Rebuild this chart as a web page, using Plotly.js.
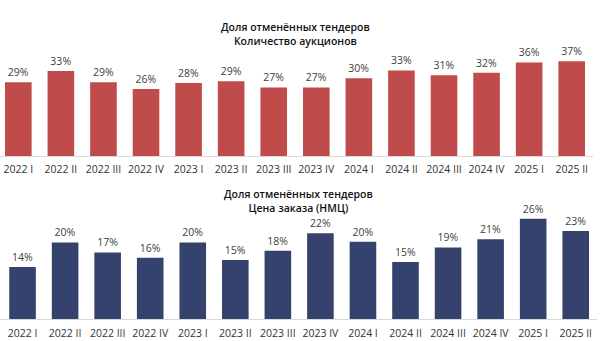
<!DOCTYPE html>
<html><head><meta charset="utf-8">
<script src="https://cdn.plot.ly/plotly-3.0.1.min.js"></script>
<style>html,body{margin:0;padding:0;background:#fff;}#chart{width:609px;height:341px;}</style>
</head><body><div id="chart"></div>
<script>
const quarters = ["2022 I","2022 II","2022 III","2022 IV","2023 I","2023 II","2023 III","2023 IV","2024 I","2024 II","2024 III","2024 IV","2025 I","2025 II"];
const auctionsShare = [28.7, 33.1, 28.7, 26.1, 28.4, 29.1, 26.7, 26.7, 30.3, 33.3, 31.4, 32.4, 36.4, 36.8];
const priceShare = [13.6, 20.0, 17.4, 16.0, 20.0, 15.4, 17.8, 22.4, 20.2, 14.9, 18.7, 20.8, 26.2, 23.0];
const titleTop = ["Доля отменённых тендеров", "Количество аукционов"];
const titleBottom = ["Доля отменённых тендеров", "Цена заказа (НМЦ)"];

const FONT = "Open Sans, DejaVu Sans, sans-serif";
const W = 609, H = 341;
const x = quarters.map((q,i)=>i);

const common = {
  type: "bar",
  x: x,
  width: 0.625,
  texttemplate: "%{y:.0f}%",
  textposition: "outside",
  cliponaxis: false,
  textfont: {family: FONT, size: 10.5, color: "#404040"},
  hoverinfo: "skip"
};
const traces = [
  Object.assign({}, common, {y: auctionsShare, marker: {color: "#BF4B4A"}, xaxis: "x", yaxis: "y"}),
  Object.assign({}, common, {y: priceShare, marker: {color: "#36426E"}, xaxis: "x2", yaxis: "y2"})
];

const xax = (range, dom, standoff) => ({
  domain: dom, range: range, tickmode: "array", tickvals: x, ticktext: quarters,
  showgrid: false, zeroline: false, showline: true, linecolor: "#d9d9d9", linewidth: 1,
  ticks: "", ticklabelstandoff: standoff, tickfont: {family: FONT, size: 10.5, color: "#333"}, fixedrange: true
});
const yax = (range, dom) => ({
  domain: dom, range: range, visible: false, showgrid: false, zeroline: false, fixedrange: true
});
const titleText = lines => lines.join("<br>");

const layout = {
  width: W, height: H,
  margin: {l: 0, r: 0, t: 0, b: 0},
  paper_bgcolor: "#fff", plot_bgcolor: "#fff",
  showlegend: false,
  xaxis: xax([-0.43, 13.5], [0, 593/W], 3),
  yaxis: yax([0, 40], [1-156.3/H, 1-53.1/H]),
  xaxis2: Object.assign(xax([-0.53, 13.5], [0, 597/W], 4), {anchor: "y2"}),
  yaxis2: Object.assign(yax([0, 28], [1-319/H, 1-211.8/H]), {anchor: "x2"}),
  annotations: [
    {text: titleText(titleTop), xref: "paper", yref: "paper",
     x: 295/W, y: 1-34/H, xanchor: "center", yanchor: "middle", showarrow: false,
     font: {family: FONT, size: 10.5, weight: 600, color: "#111"}},
    {text: titleText(titleBottom), xref: "paper", yref: "paper",
     x: 298/W, y: 1-201/H, xanchor: "center", yanchor: "middle", showarrow: false,
     font: {family: FONT, size: 10.5, weight: 600, color: "#111"}}
  ]
};
Plotly.newPlot("chart", traces, layout, {displayModeBar: false, staticPlot: true});
</script></body></html>
